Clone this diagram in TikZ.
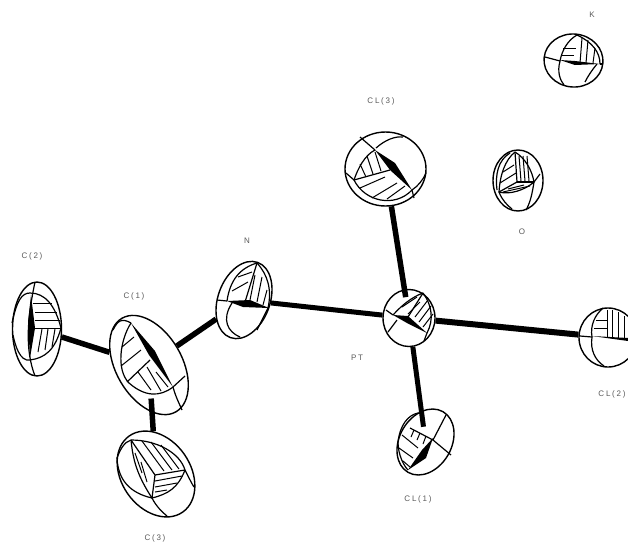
\documentclass[tikz,border=0pt]{standalone}
\usepackage{fontspec}
\setsansfont[LetterSpace=22]{Liberation Sans}
\usetikzlibrary{shapes.geometric}

\tikzset{
	atom/.style={ellipse, draw, line width=1.4pt, inner sep=0pt, minimum width=#1},
	bond/.style={line width=5.5pt, line cap=butt},
	arc line/.style={line width=1.2pt, line join=round},
	hatch/.style={line width=1pt},
	atom label/.style={font=\sffamily\fontsize{8}{9}\selectfont, text=black!65, inner sep=0pt}
}

\begin{document}
\begin{tikzpicture}[x=1pt, y=-1pt]
	\clip (0,0) rectangle (628,547);
	% atoms
	\node[atom=49pt, minimum height=94pt] (C2) at (37,329) {};
	\node[atom=108pt, minimum height=66pt, rotate=-60] (C1) at (149,365) {};
	\node[atom=93pt, minimum height=69pt, rotate=-55] (C3) at (156,474) {};
	\node[atom=80pt, minimum height=52pt, rotate=70] (N1) at (244,300) {};
	\node[atom=52pt, minimum height=57pt] (PT) at (409,318) {};
	\node[atom=81pt, minimum height=74pt] (CL3) at (385.5,169) {};
	\node[atom=50pt, minimum height=61pt] (O1) at (518,180.5) {};
	\node[atom=58pt, minimum height=59pt] (CL2) at (608,337.5) {};
	\node[atom=70pt, minimum height=52pt, rotate=60] (CL1) at (425.5,442) {};
	\node[atom=59pt, minimum height=53pt, rotate=-5] (K1) at (573.5,60.5) {};

	% bonds
	\draw[bond] (C2) -- (C1);
	\draw[bond] (C1) -- (N1);
	\draw[bond, shorten <=-14pt] (C1) -- (C3);
	\draw[bond, line width=5pt] (N1) -- (PT);
	\draw[bond, shorten <=-8pt] (PT) -- (CL3);
	\draw[bond, line width=5pt, shorten >=-16pt] (PT) -- (CL1);
	\draw[bond, line width=6pt] (PT) -- (CL2);

	% C(2)
	\draw[arc line] (35,282) .. controls (27,320) and (25,350) .. (35,376);
	\draw[arc line] (12,323) .. controls (17,300) and (22,293) .. (30,293) .. controls (45,293) and (55,305) .. (61,328);
	\draw[arc line] (61,328) .. controls (55,350) and (45,358) .. (30,360) .. controls (20,362) and (15,345) .. (13,335);
	\fill (31,295) -- (35,328) -- (30,358) -- (28,322) -- cycle;
	\foreach \y/\xa/\xb in {303/33/52, 312/35/57, 320/35/60, 328/35/61}
		\draw[hatch] (\xa,\y) -- (\xb,\y);
	\foreach \xa/\xb/\yb in {42/38/352, 48/45/350, 55/52/347}
		\draw[hatch] (\xa,329) -- (\xb,\yb);

	% C(1)
	\draw[arc line] (131,323) .. controls (120,340) and (116,370) .. (129,383) .. controls (145,397) and (160,397) .. (173,387);
	\draw[arc line] (131,323) .. controls (122,318) and (118,320) .. (113,330);
	\draw[arc line] (173,387) -- (185,376);
	\draw[arc line] (173,387) .. controls (176,398) and (180,405) .. (182,410);
	\fill (131,323) -- (155,351) -- (173,387) -- (149,355) -- cycle;
	\draw[arc line] (127,382) -- (150,360);
	\foreach \xa/\ya/\xb/\yb in {122/347/134/337, 121/366/141/350}
		\draw[hatch] (\xa,\ya) -- (\xb,\yb);
	\foreach \xa/\ya/\xb/\yb in {138/372/151/390, 147/367/161/391, 156/372/168/387}
		\draw[hatch] (\xa,\ya) -- (\xb,\yb);

	% C(3)
	\draw[arc line] (131,440) .. controls (157,440) and (180,453) .. (185,470) .. controls (178,488) and (168,494) .. (152,498) .. controls (137,475) and (133,460) .. (131,440);
	\draw[arc line] (155,475) -- (131,440);
	\draw[arc line] (155,475) -- (185,470);
	\draw[arc line] (155,475) -- (152,498);
	\draw[arc line] (131,440) .. controls (124,442) and (120,450) .. (117,458);
	\draw[arc line] (117,458) .. controls (118,480) and (130,493) .. (152,498);
	\draw[arc line] (152,498) .. controls (156,506) and (162,512) .. (167,516);
	\draw[arc line] (185,470) .. controls (189,478) and (192,484) .. (194,487);
	\foreach \xa/\ya/\xb/\yb in {142/441/164/471, 151/442/172/470, 161/445/179/469}
		\draw[hatch] (\xa,\ya) -- (\xb,\yb);
	\foreach \xa/\ya/\xb/\yb in {155/481/182/476, 155/487/177/483, 155/492/167/490}
		\draw[hatch] (\xa,\ya) -- (\xb,\yb);
	\foreach \xa/\ya/\xb/\yb in {135/453/142/473, 141/462/147/482}
		\draw[hatch] (\xa,\ya) -- (\xb,\yb);

	% N
	\draw[arc line] (227,301) .. controls (230,280) and (240,268) .. (257,263) .. controls (268,275) and (272,290) .. (268,308);
	\draw[arc line] (257,263) -- (245,302);
	\draw[arc line] (217,300) -- (227,301);
	\draw[arc line] (232,303) .. controls (221,320) and (228,332) .. (240,337);
	\draw[arc line] (268,308) -- (257,330);
	\fill (227,301) -- (250,300) -- (269,308) -- (243,307) -- cycle;
	\foreach \xa/\ya/\xb/\yb in {232/291/248/282, 238/277/252/272}
		\draw[hatch] (\xa,\ya) -- (\xb,\yb);
	\foreach \xa/\ya/\xb/\yb in {255/275/250/300, 262/277/257/302, 267/290/263/305}
		\draw[hatch] (\xa,\ya) -- (\xb,\yb);

	% PT
	\draw[arc line] (393,315) .. controls (402,305) and (412,297) .. (423,293) .. controls (432,305) and (434,320) .. (427,333);
	\draw[arc line] (423,293) -- (408,317);
	\draw[arc line] (386,310) -- (393,315);
	\draw[arc line] (388,332) -- (397,320);
	\draw[arc line] (427,333) -- (424,341);
	\fill (393,315) -- (408,316) -- (427,333) -- (407,323) -- cycle;
	\foreach \xa/\ya/\xb/\yb in {402/307/417/297, 408/314/420/302}
		\draw[hatch] (\xa,\ya) -- (\xb,\yb);
	\foreach \xa/\ya/\xb/\yb in {415/317/428/300, 419/322/431/306, 423/327/433/314}
		\draw[hatch] (\xa,\ya) -- (\xb,\yb);

	% CL(3)
	\draw[arc line] (375,150) .. controls (365,155) and (358,168) .. (354,180) .. controls (365,202) and (395,208) .. (412,190);
	\draw[arc line] (375,150) -- (360,137);
	\draw[arc line] (376,148) .. controls (385,140) and (395,136) .. (403,137);
	\draw[arc line] (354,180) -- (346,173);
	\draw[arc line] (412,190) .. controls (418,186) and (423,180) .. (426,173);
	\draw[arc line] (412,190) -- (414,198);
	\fill (375,150) -- (395,163) -- (412,190) -- (390,170) -- cycle;
	\draw[arc line] (354,180) -- (390,170);
	\foreach \xa/\ya/\xb/\yb in {360/164/366/177, 367/156/373/174, 375/152/381/171}
		\draw[hatch] (\xa,\ya) -- (\xb,\yb);
	\foreach \xa/\ya/\xb/\yb in {360/188/385/177, 372/198/397/183, 387/199/405/186}
		\draw[hatch] (\xa,\ya) -- (\xb,\yb);

	% O
	\draw[arc line] (515,152) .. controls (505,160) and (500,175) .. (499,192) .. controls (510,195) and (525,190) .. (534,182) .. controls (532,170) and (525,158) .. (515,152);
	\draw[arc line] (515,152) -- (517,182) -- (499,192);
	\draw[arc line] (517,182) -- (534,182);
	\draw[arc line] (510,153) .. controls (498,160) and (495,175) .. (497,190);
	\draw[arc line] (499,192) .. controls (502,200) and (507,205) .. (512,209);
	\draw[arc line] (534,182) -- (540,174);
	\draw[arc line] (534,182) .. controls (532,195) and (530,203) .. (526,210);
	\foreach \xa/\ya/\xb/\yb in {503/172/514/165, 500/183/516/173, 503/192/530/186, 508/189/524/185}
		\draw[hatch] (\xa,\ya) -- (\xb,\yb);
	\foreach \xa/\xb in {519/521, 523/525, 527/529}
		\draw[hatch] (\xa,156) -- (\xb,181);

	% CL(2)
	\draw[arc line] (592,337) .. controls (590,325) and (595,315) .. (603,308);
	\draw[arc line] (592,337) .. controls (590,350) and (595,360) .. (604,366);
	\draw[arc line] (580,336) -- (592,337);
	\fill (592,336) -- (628,338) -- (628,341) -- cycle;
	\foreach \y/\xa/\xb in {320/596/607, 328/594/607}
		\draw[hatch] (\xa,\y) -- (\xb,\y);
	\foreach \x/\ya in {607/310, 612/310, 618/312, 624/316}
		\draw[hatch] (\x,\ya) -- (\x,338);

	% CL(1)
	\draw[arc line] (398,442) .. controls (400,425) and (408,415) .. (418,413);
	\draw[arc line] (398,442) .. controls (398,455) and (404,466) .. (408,470);
	\draw[arc line] (410,428) -- (433,440);
	\draw[arc line] (433,440) -- (446,415);
	\draw[arc line] (433,440) -- (451,455);
	\fill (433,438) -- (426,458) -- (408,470) -- (422,450) -- cycle;
	\foreach \xa/\ya/\xb/\yb in {402/435/418/448, 399/448/413/458, 403/461/410/467}
		\draw[hatch] (\xa,\ya) -- (\xb,\yb);
	\foreach \xa/\ya/\xb/\yb in {414/430/411/437, 420/433/417/440, 426/436/423/444}
		\draw[hatch] (\xa,\ya) -- (\xb,\yb);

	% K
	\draw[arc line] (560,61) .. controls (562,50) and (568,40) .. (577,35) .. controls (592,42) and (600,52) .. (600,64);
	\draw[arc line] (545,57) -- (560,61);
	\draw[arc line] (600,64) -- (603,64);
	\draw[arc line] (560,61) .. controls (557,72) and (560,80) .. (564,85);
	\draw[arc line] (597,64) .. controls (592,70) and (588,76) .. (585,82);
	\fill (560,60) -- (575,61) -- (600,64) -- (575,65) -- cycle;
	\foreach \y/\xa/\xb in {48/563/576, 55/561/574}
		\draw[hatch] (\xa,\y) -- (\xb,\y);
	\foreach \xa/\ya/\xb in {582/38/580, 588/40/586, 595/48/593}
		\draw[hatch] (\xa,\ya) -- (\xb,63);

	% labels
	\node[atom label] (lC2) at (32,256) {C(2)};
	\node[atom label] (lC1) at (134,296) {C(1)};
	\node[atom label] (lC3) at (155,538) {C(3)};
	\node[atom label] (lN) at (247,241) {N};
	\node[atom label] (lPT) at (357,358) {PT};
	\node[atom label] (lCL1) at (418,499) {CL(1)};
	\node[atom label] (lCL2) at (612,394) {CL(2)};
	\node[atom label] (lCL3) at (381,101) {CL(3)};
	\node[atom label] (lO) at (522,232) {O};
	\node[atom label] (lK) at (592,15) {K};
\end{tikzpicture}
\end{document}
